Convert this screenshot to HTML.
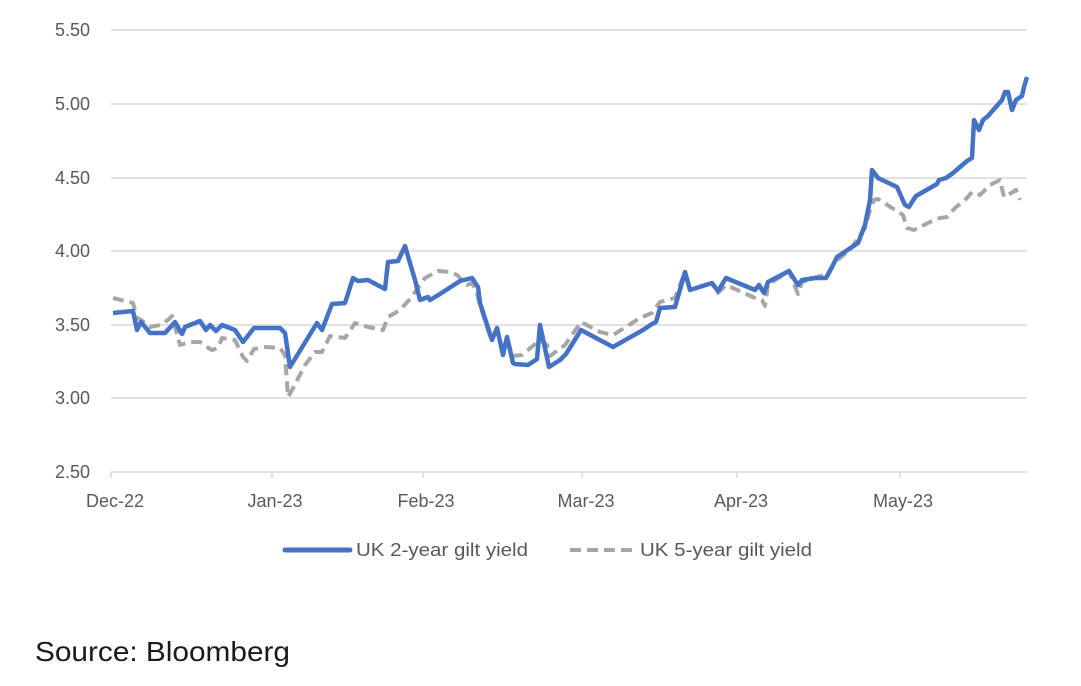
<!DOCTYPE html>
<html><head><meta charset="utf-8"><style>
body{margin:0;background:#fff;width:1081px;height:681px;overflow:hidden}
svg text{font-family:"Liberation Sans",sans-serif}
</style></head><body>
<svg width="1081" height="681" xmlns="http://www.w3.org/2000/svg">
<g stroke="#d9d9d9" stroke-width="1.5">
<line x1="111" y1="30" x2="1027" y2="30"/>
<line x1="111" y1="104" x2="1027" y2="104"/>
<line x1="111" y1="178" x2="1027" y2="178"/>
<line x1="111" y1="251" x2="1027" y2="251"/>
<line x1="111" y1="325" x2="1027" y2="325"/>
<line x1="111" y1="398" x2="1027" y2="398"/>
<line x1="111" y1="472" x2="1027" y2="472"/>
<line x1="111" y1="472" x2="111" y2="478"/>
<line x1="272" y1="472" x2="272" y2="478"/>
<line x1="423" y1="472" x2="423" y2="478"/>
<line x1="582" y1="472" x2="582" y2="478"/>
<line x1="737" y1="472" x2="737" y2="478"/>
<line x1="900" y1="472" x2="900" y2="478"/>
</g>
<g font-size="18" fill="#595959" text-anchor="end">
<text x="90" y="36">5.50</text>
<text x="90" y="110">5.00</text>
<text x="90" y="184">4.50</text>
<text x="90" y="257">4.00</text>
<text x="90" y="331">3.50</text>
<text x="90" y="404">3.00</text>
<text x="90" y="478">2.50</text>
</g>
<g font-size="18" fill="#595959" text-anchor="middle">
<text x="115" y="507">Dec-22</text>
<text x="275" y="507">Jan-23</text>
<text x="426" y="507">Feb-23</text>
<text x="586" y="507">Mar-23</text>
<text x="741" y="507">Apr-23</text>
<text x="903" y="507">May-23</text>
</g>
<polyline fill="none" stroke="#a6a6a6" stroke-width="4" stroke-dasharray="11,6" stroke-linejoin="round" points="113,298 133,303 137,318 141,320 150,327 160,325 168,320 172,316 180,345 190,342 200,342 205,346 212,350 218,348 222,338 235,340 243,357 247,361 254,349 265,347 280,348 285,355 288,397 292,390 305,365 315,352 322,352 330,336 345,338 355,323 368,327 383,330 388,317 400,310 410,299 420,285 425,278 438,271 450,272 457,275 462,280 467,285 472,283 476,290 480,305 490,336 497,330 503,350 507,340 513,356 522,355 540,340 547,345 550,356 565,345 581,322 600,332 613,335 640,318 652,313 660,302 675,298 685,272 690,290 712,283 718,293 726,285 755,298 762,300 765,306 768,285 789,271 798,294 802,282 820,276 828,275 835,262 850,250 865,228 870,210 874,200 878,199 903,215 907,228 914,230 930,222 940,218 947,217 955,208 967,198 972,192 980,195 990,185 1000,180 1004,197 1008,195 1016,190 1020,200"/>
<polyline fill="none" stroke="#4472c4" stroke-width="4.5" stroke-linejoin="round" points="113,313 133,311 137,330 141,322 150,333 165,333 175,322 182,334 185,327 200,321 206,330 210,325 216,331 222,325 235,330 243,342 254,328 280,328 285,333 290,367 317,323 322,330 332,304 345,303 353,278 358,281 368,280 385,289 388,262 398,261 405,246 415,280 420,300 428,297 430,300 440,294 460,281 472,278 478,287 480,303 492,340 497,328 503,355 507,337 513,363 515,364 528,365 537,359 540,325 549,367 560,360 566,354 581,330 613,347 643,330 652,324 656,322 660,308 675,307 685,272 690,290 712,283 718,291 726,278 755,290 759,285 764,293 768,282 789,271 798,285 802,280 815,278 826,278 832,267 837,257 858,243 865,225 870,200 872,170 878,178 897,187 905,205 909,207 912,202 916,196 937,184 939,180 946,178 953,173 967,161 972,158 974,120 979,130 983,120 988,116 1002,100 1005,92 1008,92 1012,110 1016,100 1022,96 1024,87 1027,77"/>
<line x1="285" y1="550" x2="350" y2="550" stroke="#4472c4" stroke-width="5" stroke-linecap="round"/>
<text x="356" y="556" font-size="18" fill="#595959" textLength="172" lengthAdjust="spacingAndGlyphs">UK 2-year gilt yield</text>
<line x1="570" y1="550" x2="633" y2="550" stroke="#a6a6a6" stroke-width="4" stroke-dasharray="11,6"/>
<text x="640" y="556" font-size="18" fill="#595959" textLength="172" lengthAdjust="spacingAndGlyphs">UK 5-year gilt yield</text>
<text x="35" y="661" font-size="28" fill="#1a1a1a" textLength="255" lengthAdjust="spacingAndGlyphs">Source: Bloomberg</text>
</svg>
</body></html>
